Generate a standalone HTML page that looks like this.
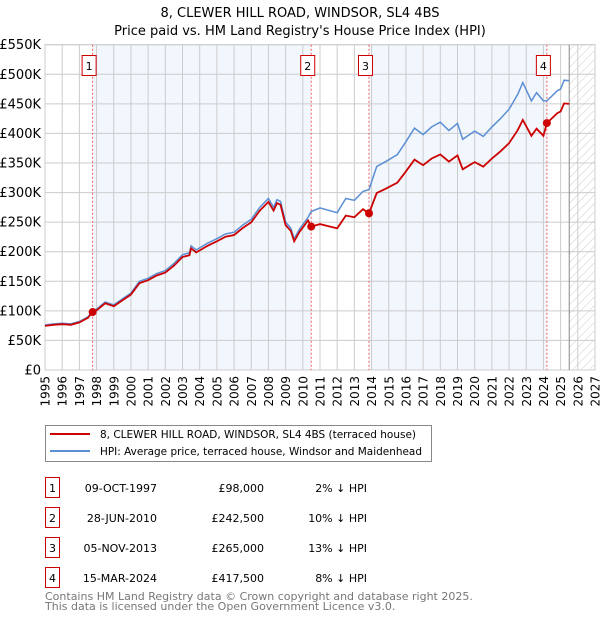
<!DOCTYPE html>
<html><head><meta charset="utf-8"><style>
body{margin:0;background:#fff;font-family:"Liberation Sans","DejaVu Sans",sans-serif;}
svg text{font-family:"DejaVu Sans","Liberation Sans",sans-serif;}
</style></head><body>
<svg id="chart" width="600" height="620" xmlns="http://www.w3.org/2000/svg">
<defs><pattern id="hatch" width="6" height="6" patternUnits="userSpaceOnUse" patternTransform="rotate(45)"><line x1="0" y1="0" x2="0" y2="6" stroke="#ccc" stroke-width="1"/></pattern></defs>
<text x="300" y="17" text-anchor="middle" font-size="13">8, CLEWER HILL ROAD, WINDSOR, SL4 4BS</text>
<text x="300" y="35" text-anchor="middle" font-size="13">Price paid vs. HM Land Registry's House Price Index (HPI)</text>
<g id="plot"></g>
<g>
<rect x="45.5" y="425.5" width="386" height="36" fill="#fff" stroke="#888"/>
<line x1="50" y1="434" x2="90" y2="434" stroke="#cc0000" stroke-width="2"/>
<text x="100" y="438" font-size="11" textLength="316" lengthAdjust="spacingAndGlyphs">8, CLEWER HILL ROAD, WINDSOR, SL4 4BS (terraced house)</text>
<line x1="50" y1="451" x2="90" y2="451" stroke="#5b8fd4" stroke-width="2"/>
<text x="100" y="455" font-size="11" textLength="322" lengthAdjust="spacingAndGlyphs">HPI: Average price, terraced house, Windsor and Maidenhead</text>
</g>
<g id="table" font-size="11"></g>
<text x="45" y="600" font-size="11" fill="#777">Contains HM Land Registry data © Crown copyright and database right 2025.</text>
<text x="45" y="610" font-size="11" fill="#777">This data is licensed under the Open Government Licence v3.0.</text>
</svg>
<script>
const years=[1995.0,1995.5,1996.0,1996.5,1997.0,1997.5,1997.77,1998.0,1998.5,1999.0,1999.5,2000.0,2000.5,2001.0,2001.5,2002.0,2002.5,2003.0,2003.4,2003.5,2003.8,2004.5,2005.0,2005.5,2006.0,2006.5,2007.0,2007.5,2008.0,2008.3,2008.5,2008.7,2009.0,2009.3,2009.5,2009.8,2010.3,2010.49,2011.0,2011.5,2012.0,2012.5,2013.0,2013.5,2013.85,2014.3,2014.8,2015.5,2016.0,2016.5,2017.0,2017.5,2018.0,2018.5,2019.0,2019.3,2019.7,2020.0,2020.5,2021.0,2021.5,2022.0,2022.5,2022.8,2023.3,2023.6,2024.0,2024.2,2024.8,2025.0,2025.2,2025.5];
const hpi=[76,78,79,78,82,90,100,103,115,110,120,130,150,155,163,168,180,195,198,210,203,215,222,230,233,245,255,275,290,275,288,285,250,240,222,238,258,268,274,270,266,290,287,302,305,344,352,364,386,409,398,411,419,405,417,390,398,404,395,411,425,441,466,486,455,469,455,455,472,475,490,489];
const price=[74.5,76.4,77.4,76.4,80.4,88.2,98,100.9,112.7,107.8,117.6,127.4,147,151.9,159.7,164.6,176.4,191.1,194,205.8,198.9,210.7,217.6,225.4,228.3,240.1,249.9,269.5,284.2,269.5,282.2,279.3,245,235.2,217.6,233.2,252.8,242.5,246.6,243,239.4,261,258.3,271.8,265,299.3,306.2,316.7,335.8,355.8,346.3,357.6,364.5,352.4,362.8,339.3,346.3,351.5,343.7,357.6,369.8,383.7,405.4,422.8,395.9,408,396,417.5,434.2,437,450.8,449.9];
const saleYears=[1997.77,2010.49,2013.85,2024.2];
const salePrices=[98,242.5,265,417.5];
const saleDates=["09-OCT-1997","28-JUN-2010","05-NOV-2013","15-MAR-2024"];
const saleLabels=["£98,000","£242,500","£265,000","£417,500"];
const saleDiffs=["2% ↓ HPI","10% ↓ HPI","13% ↓ HPI","8% ↓ HPI"];
const yTicks=[0,50,100,150,200,250,300,350,400,450,500,550];
const yTickLabels=["£0","£50K","£100K","£150K","£200K","£250K","£300K","£350K","£400K","£450K","£500K","£550K"];

const NS="http://www.w3.org/2000/svg";
const L=45,R=595,T=44.7,B=370,X0=1995,X1=2027,YMAX=550;
const x=v=>L+(v-X0)/(X1-X0)*(R-L);
const y=v=>B-v/YMAX*(B-T);
function mk(tag,attrs,parent){const e=document.createElementNS(NS,tag);for(const k in attrs)e.setAttribute(k,attrs[k]);parent.appendChild(e);return e;}
const plot=document.getElementById('plot');
const shades=[[saleYears[0],saleYears[1]],[saleYears[2],saleYears[3]]];
shades.forEach(s=>{const r=mk('rect',{x:x(s[0]),y:T,width:x(s[1])-x(s[0]),height:B-T,fill:'#f2f6fd'},plot);

});
const hz=mk('rect',{x:x(2025.5),y:T,width:R-x(2025.5),height:B-T,fill:'url(#hatch)'},plot);


for(let yr=1995;yr<=2027;yr++){const g=mk('line',{x1:x(yr),x2:x(yr),y1:T,y2:B,stroke:'#ccc','stroke-width':1},plot);


const t=mk('text',{x:0,y:0,'font-size':12,'text-anchor':'end',transform:`translate(${x(yr)+4.5},376) rotate(-90)`},plot);t.textContent=yr;

}
yTicks.forEach((v,i)=>{const g=mk('line',{x1:L,x2:R,y1:y(v),y2:y(v),stroke:'#ccc','stroke-width':1},plot);


const t=mk('text',{x:41,y:y(v)+4.5,'font-size':13,'text-anchor':'end'},plot);t.textContent=yTickLabels[i];

});
mk('rect',{x:L,y:T,width:R-L,height:B-T,fill:'none',stroke:'#ccc'},plot);
const now=mk('line',{x1:x(2025.5),x2:x(2025.5),y1:T,y2:B,stroke:'#888','stroke-width':1},plot);


saleYears.forEach((s,i)=>{const l=mk('line',{x1:x(s),x2:x(s),y1:T,y2:B,stroke:'#f06060','stroke-width':1,'stroke-dasharray':'2,2'},plot);


const b=mk('rect',{x:x(s)-10.5,y:55.5,width:14,height:20,fill:'#fff',stroke:'#cc0000'},plot);


const t=mk('text',{x:x(s)-3.5,y:70,'font-size':11,'text-anchor':'middle'},plot);t.textContent=i+1;

});
const hp=mk('path',{d:years.map((v,i)=>(i?'L':'M')+x(v).toFixed(1)+','+y(hpi[i]).toFixed(1)).join(''),fill:'none',stroke:'#5b8fd4','stroke-width':1.5},plot);


const pp=mk('path',{d:years.map((v,i)=>(i?'L':'M')+x(v).toFixed(1)+','+y(price[i]).toFixed(1)).join(''),fill:'none',stroke:'#cc0000','stroke-width':1.8},plot);


saleYears.forEach((s,i)=>{const c=mk('circle',{cx:x(s),cy:y(salePrices[i]),r:4,fill:'#cc0000'},plot);

});
const tb=document.getElementById('table');
saleYears.forEach((s,i)=>{const yy=493+i*30;
const b=mk('rect',{x:45.5,y:yy-15.5,width:14,height:20,fill:'#fff',stroke:'#cc0000'},tb);


const n=mk('text',{x:52.5,y:yy-1,'text-anchor':'middle'},tb);n.textContent=i+1;


const d=mk('text',{x:157,y:yy-1,'text-anchor':'end'},tb);d.textContent=saleDates[i];


const p=mk('text',{x:264,y:yy-1,'text-anchor':'end'},tb);p.textContent=saleLabels[i];


const h=mk('text',{x:367,y:yy-1,'text-anchor':'end'},tb);h.textContent=saleDiffs[i];

});
</script>
</body></html>
